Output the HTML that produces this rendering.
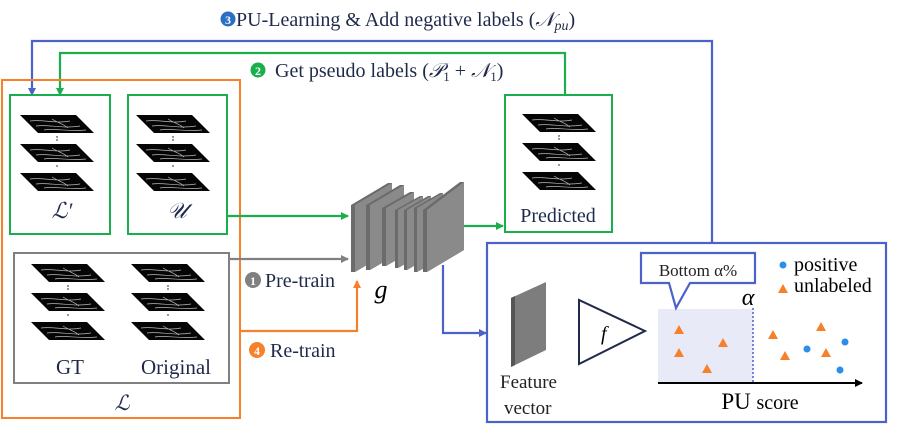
<!DOCTYPE html>
<html><head><meta charset="utf-8"><style>
html,body{margin:0;padding:0;background:#fff}
svg{display:block}
svg text, svg tspan{font-family:"Liberation Serif","DejaVu Serif",serif !important}
</style></head><body>
<svg width="897" height="433" viewBox="0 0 897 433" xmlns="http://www.w3.org/2000/svg">
<defs>
<g id="slab">
<polygon points="0,0 56,0 74,18 18,18" fill="#050505"/>
<path d="M10,6 C22,4 36,9 50,6 M16,11 C28,9 42,14 60,11 M24,15 C36,13 48,17 66,15 M32,4 C38,8 44,9 48,13" stroke="#bbb" stroke-width="0.7" fill="none"/>
</g>
<g id="stack">
<use href="#slab" x="0" y="0"/>
<use href="#slab" x="0" y="29"/>
<use href="#slab" x="0" y="58"/>
<circle cx="37" cy="22" r="0.7" fill="#000"/><circle cx="37" cy="25" r="0.7" fill="#000"/>
<circle cx="37" cy="51" r="0.7" fill="#000"/>
</g>
<marker id="ab" markerWidth="8" markerHeight="8" refX="7" refY="4" orient="auto" markerUnits="userSpaceOnUse"><path d="M0,0 L8,4 L0,8z" fill="#4a62c9"/></marker>
<marker id="ag" markerWidth="8" markerHeight="8" refX="7" refY="4" orient="auto" markerUnits="userSpaceOnUse"><path d="M0,0 L8,4 L0,8z" fill="#1aaf4c"/></marker>
<marker id="agr" markerWidth="8" markerHeight="8" refX="7" refY="4" orient="auto" markerUnits="userSpaceOnUse"><path d="M0,0 L8,4 L0,8z" fill="#808080"/></marker>
<marker id="ao" markerWidth="8" markerHeight="8" refX="7" refY="4" orient="auto" markerUnits="userSpaceOnUse"><path d="M0,0 L8,4 L0,8z" fill="#f7812b"/></marker>
<marker id="ak" markerWidth="8" markerHeight="8" refX="7" refY="4" orient="auto" markerUnits="userSpaceOnUse"><path d="M0,0 L8,4 L0,8z" fill="#000"/></marker>
</defs>
<g font-family="'Liberation Serif','DejaVu Serif',serif" fill="#1f2a4a">

<polyline points="712,243 712,41 32,41 32,95" fill="none" stroke="#4a62c9" stroke-width="2.2" marker-end="url(#ab)"/>
<polyline points="565,95 565,53 60,53 60,95" fill="none" stroke="#1aaf4c" stroke-width="2.2" marker-end="url(#ag)"/>

<circle cx="228" cy="19" r="7.5" fill="#2b6fc4"/>
<text x="228" y="24" font-size="12" font-weight="bold" text-anchor="middle" fill="#fff">3</text>
<text x="236" y="26" font-size="20">PU-Learning &amp; Add negative labels (<tspan font-style="italic">𝒩</tspan><tspan font-style="italic" font-size="14" dy="4">pu</tspan><tspan dy="-4">)</tspan></text>
<circle cx="258" cy="70" r="7.5" fill="#1aaf4c"/>
<text x="258" y="75" font-size="12" font-weight="bold" text-anchor="middle" fill="#fff">2</text>
<text x="275" y="77" font-size="20">Get pseudo labels (<tspan font-style="italic">𝒫</tspan><tspan font-size="13" dy="4">1</tspan><tspan dy="-4"> + </tspan><tspan font-style="italic">𝒩</tspan><tspan font-size="13" dy="4">1</tspan><tspan dy="-4">)</tspan></text>

<rect x="2" y="80" width="238" height="338" fill="none" stroke="#f7812b" stroke-width="2"/>
<rect x="10" y="95" width="100" height="139" fill="none" stroke="#1aaf4c" stroke-width="2"/>
<rect x="128" y="95" width="99" height="139" fill="none" stroke="#1aaf4c" stroke-width="2"/>
<rect x="14" y="253" width="215" height="130" fill="none" stroke="#808080" stroke-width="2"/>
<use href="#stack" x="20" y="115"/>
<use href="#stack" x="136" y="115"/>
<use href="#stack" x="31" y="264"/>
<use href="#stack" x="131" y="264"/>
<text x="62" y="218" font-size="22" font-style="italic" text-anchor="middle">ℒ′</text>
<text x="177" y="218" font-size="22" font-style="italic" text-anchor="middle">𝒰</text>
<text x="70" y="374" font-size="21" text-anchor="middle">GT</text>
<text x="176" y="374" font-size="21" text-anchor="middle">Original</text>
<text x="122" y="410" font-size="21" font-style="italic" text-anchor="middle">ℒ</text>

<line x1="227" y1="216" x2="348" y2="216" stroke="#1aaf4c" stroke-width="2.2" marker-end="url(#ag)"/>
<line x1="229" y1="259" x2="348" y2="259" stroke="#808080" stroke-width="2.2" marker-end="url(#agr)"/>
<polyline points="240,331 357,331 357,281" fill="none" stroke="#f7812b" stroke-width="2.2" marker-end="url(#ao)"/>
<circle cx="253" cy="280" r="8" fill="#808080"/>
<text x="253" y="285" font-size="12" font-weight="bold" text-anchor="middle" fill="#fff">1</text>
<text x="265" y="287" font-size="20">Pre-train</text>
<circle cx="257" cy="350" r="8" fill="#f7812b"/>
<text x="257" y="355" font-size="12" font-weight="bold" text-anchor="middle" fill="#fff">4</text>
<text x="270" y="357" font-size="20">Re-train</text>

<g stroke="none">
<polygon points="351,205 388,183 392,183 392,250 355,272 351,272" fill="#6b6b6b"/><polygon points="355,205 392,183 392,250 355,272" fill="#8a8a8a"/>
<polygon points="366,205 400,185 404,185 404,250 370,270 366,270" fill="#6b6b6b"/><polygon points="370,205 404,185 404,250 370,270" fill="#8a8a8a"/>
<polygon points="382,208 410,192 414,192 414,250 386,266 382,266" fill="#6b6b6b"/><polygon points="386,208 414,192 414,250 386,266" fill="#8a8a8a"/>
<polygon points="395,210 420,196 423,196 423,254 398,268 395,268" fill="#6b6b6b"/><polygon points="398,210 423,196 423,254 398,268" fill="#8a8a8a"/>
<polygon points="404,210 428,196 431,196 431,256 407,270 404,270" fill="#6b6b6b"/><polygon points="407,210 431,196 431,256 407,270" fill="#8a8a8a"/>
<polygon points="414,208 440,193 443,193 443,258 417,272 414,272" fill="#6b6b6b"/><polygon points="417,208 443,193 443,258 417,272" fill="#8a8a8a"/>
<polygon points="423,210 460,182 464,182 464,250 427,272 423,272" fill="#6b6b6b"/><polygon points="427,210 464,182 464,250 427,272" fill="#8a8a8a"/>
</g>
<text x="381" y="298" font-size="26" font-style="italic" text-anchor="middle" fill="#000">g</text>

<line x1="464" y1="226" x2="503" y2="226" stroke="#1aaf4c" stroke-width="2.2" marker-end="url(#ag)"/>
<rect x="505" y="95" width="107" height="137" fill="none" stroke="#1aaf4c" stroke-width="2"/>
<use href="#stack" x="522" y="114"/>
<text x="558" y="222" font-size="20" text-anchor="middle">Predicted</text>

<polyline points="443,265 443,333 486,333" fill="none" stroke="#4a62c9" stroke-width="2.2" marker-end="url(#ab)"/>

<rect x="487" y="243" width="399" height="179" fill="none" stroke="#4a62c9" stroke-width="2.2"/>
<polygon points="511,298 546,282 546,350 511,367" fill="#7d7d7d"/>
<polygon points="511,298 515,296 515,365 511,367" fill="#555"/>
<text x="500" y="388" font-size="19" fill="#222">Feature</text>
<text x="504" y="414" font-size="19" fill="#222">vector</text>
<polygon points="579,300 579,364 645,331" fill="#fff" stroke="#1f2a4a" stroke-width="2"/>
<text x="601" y="340" font-size="20" font-style="italic" fill="#000">f</text>
<rect x="658" y="309" width="95" height="74" fill="#e8ebf7"/>
<line x1="753" y1="308" x2="753" y2="383" stroke="#4a62c9" stroke-width="1.5" stroke-dasharray="2,2"/>
<line x1="658" y1="383" x2="862" y2="383" stroke="#000" stroke-width="2" marker-end="url(#ak)"/>
<text x="748" y="305" font-size="24" font-style="italic" text-anchor="middle" fill="#000">α</text>
<text x="760" y="409" font-size="23" text-anchor="middle" fill="#000">PU <tspan font-size="20">score</tspan></text>
<path d="M641,253 L755,253 L755,283 L690,283 L676,308 L669,283 L641,283 Z" fill="#fff" stroke="#4a62c9" stroke-width="2.2"/>
<text x="698" y="276" font-size="17" text-anchor="middle" fill="#222">Bottom α%</text>
<circle cx="783" cy="265" r="3.5" fill="#2b8fe8"/>
<text x="794" y="271" font-size="20" fill="#000">positive</text>
<polygon points="778,293 783,284 788,293" fill="#f7812b"/>
<text x="794" y="292" font-size="20" fill="#000">unlabeled</text>
<g fill="#f7812b">
<polygon points="674,334 679,325 684,334"/>
<polygon points="674,357 679,348 684,357"/>
<polygon points="718,347 723,338 728,347"/>
<polygon points="702,373 707,364 712,373"/>
<polygon points="768,339 773,330 778,339"/>
<polygon points="780,360 785,351 790,360"/>
<polygon points="816,331 821,322 826,331"/>
<polygon points="821,357 826,348 831,357"/>
</g>
<g fill="#2b8fe8">
<circle cx="807" cy="349" r="3.5"/><circle cx="845" cy="342" r="3.5"/><circle cx="840" cy="370" r="3.5"/>
</g>
</g>
</svg>
</body></html>
